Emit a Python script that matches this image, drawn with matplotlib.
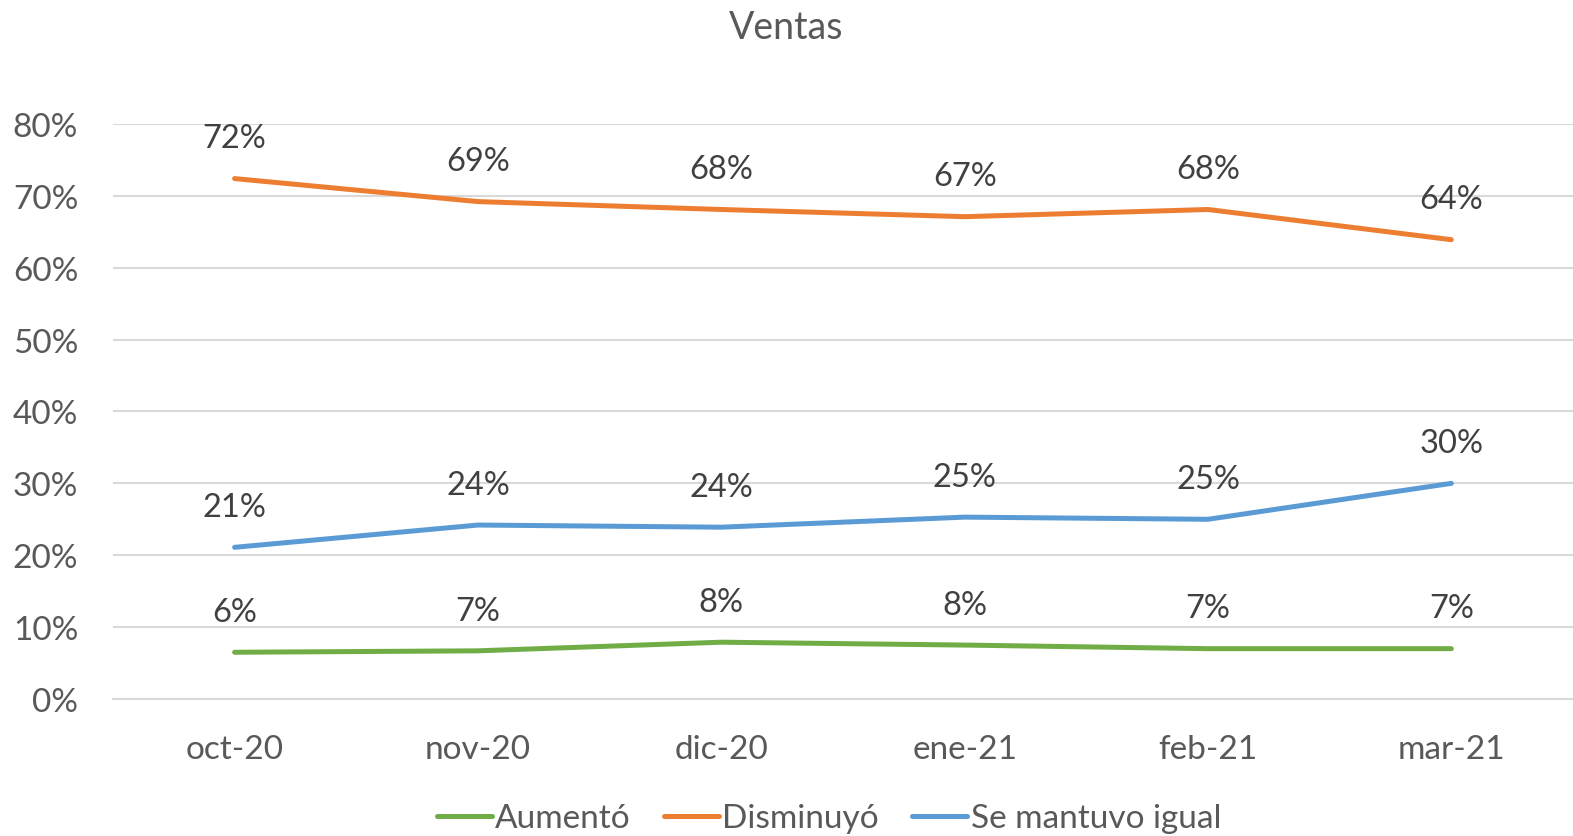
import matplotlib
matplotlib.use('Agg')
from matplotlib import pyplot as plt
from matplotlib.ticker import PercentFormatter

meses = ['oct-20', 'nov-20', 'dic-20', 'ene-21', 'feb-21', 'mar-21']
aumento = [6.5, 6.7, 7.9, 7.5, 7.0, 7.0]
disminuyo = [72.4, 69.2, 68.1, 67.1, 68.1, 63.9]
igual = [21.1, 24.2, 23.9, 25.3, 25.0, 30.0]

series = [
    ('Aumentó', aumento, '#70AD47'),
    ('Disminuyó', disminuyo, '#ED7D31'),
    ('Se mantuvo igual', igual, '#5B9BD5'),
]

plt.rcParams['font.family'] = ['Lato', 'DejaVu Sans']

fig = plt.figure(figsize=(15.73, 8.37), dpi=100)
ax = fig.add_axes([0.0718, 0.1637, 0.9282, 0.687])

x = list(range(len(meses)))
for nombre, valores, color in series:
    ax.plot(x, valores, color=color, linewidth=3.6, label=nombre,
            solid_capstyle='round')
    for xi, v in zip(x, valores):
        ax.annotate(f'{round(v):.0f}%', (xi, v), xytext=(0, 29),
                    textcoords='offset points', ha='center', va='center',
                    fontsize=23.5, color='#404040')

ax.set_xlim(-0.5, len(meses) - 0.5)
ax.set_ylim(0, 80)
ax.set_yticks(range(0, 81, 10))
ax.yaxis.set_major_formatter(PercentFormatter(decimals=0))
ax.set_xticks(x)
ax.set_xticklabels(meses)
ax.grid(axis='y', color='#D9D9D9', linewidth=1.5)
ax.set_axisbelow(True)
for s in ['top', 'right', 'left']:
    ax.spines[s].set_visible(False)
ax.spines['bottom'].set_color('#D9D9D9')
ax.spines['bottom'].set_linewidth(1.5)
ax.tick_params(axis='both', length=0, labelsize=24, colors='#595959')
ax.tick_params(axis='y', pad=25)
ax.tick_params(axis='x', pad=25)

fig.text(0.5, 0.966, 'Ventas', ha='center', va='center',
         fontsize=27, color='#595959')

fig.legend(loc='center', bbox_to_anchor=(0.527, 0.021), ncol=3,
           frameon=False, fontsize=24, labelcolor='#595959',
           handlelength=1.65, handletextpad=0.1, columnspacing=1.0)

plt.savefig('out.png', dpi=100)
